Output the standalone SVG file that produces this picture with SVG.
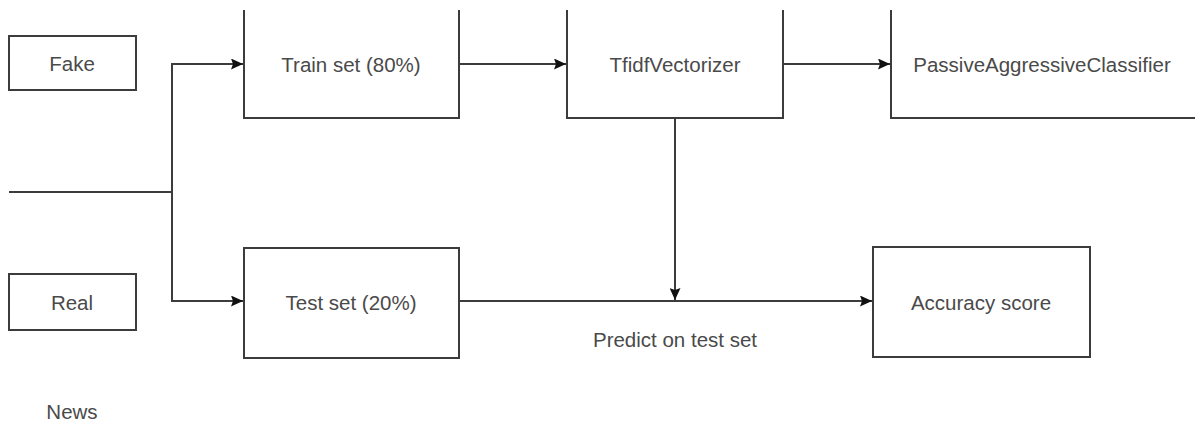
<svg xmlns="http://www.w3.org/2000/svg" width="1195" height="421" viewBox="0 0 1195 421">
<style>
.box{fill:#fff;stroke:#3c3c3c;stroke-width:2}
.ln{fill:none;stroke:#3c3c3c;stroke-width:2}
text{font-family:"Liberation Sans",Arial,sans-serif;font-size:20.5px;fill:#4a4a4a;text-anchor:middle;dominant-baseline:central}
</style>
<defs>
<marker id="ah" viewBox="0 0 12 11" refX="12" refY="5.5" markerWidth="12" markerHeight="11" markerUnits="userSpaceOnUse" orient="auto">
<path d="M0,0 L12,5.5 L0,11 L2,5.5 Z" fill="#111"/>
</marker>
</defs>
<rect width="1195" height="421" fill="#fff"/>
<g id="connectors">
<path class="ln" d="M9,192 H172"/>
<path class="ln" d="M172,301 V64 H243" marker-end="url(#ah)"/>
<path class="ln" d="M172,192 V301 H243" marker-end="url(#ah)"/>
<path class="ln" d="M459,64 H566" marker-end="url(#ah)"/>
<path class="ln" d="M783,64 H890" marker-end="url(#ah)"/>
<path class="ln" d="M675,118 V300" marker-end="url(#ah)"/>
<path class="ln" d="M459,301 H872" marker-end="url(#ah)"/>
</g>
<g id="fake"><rect class="box" x="9" y="36" width="127" height="54"/><text x="72" y="63">Fake</text></g>
<g id="real"><rect class="box" x="9" y="274" width="127" height="56"/><text x="72" y="302">Real</text></g>
<g id="news"><text x="72" y="411">News</text></g>
<g id="train"><path class="box" d="M244,10 V118 H459 V10"/><text x="351" y="64">Train set (80%)</text></g>
<g id="tfidf"><path class="box" d="M567,10 V118 H783 V10"/><text x="675" y="64">TfidfVectorizer</text></g>
<g id="pac"><path class="box" d="M891,10 V118 H1195"/><text x="1042" y="64">PassiveAggressiveClassifier</text></g>
<g id="test"><rect class="box" x="244" y="248" width="215" height="110"/><text x="351" y="302">Test set (20%)</text></g>
<g id="acc"><rect class="box" x="873" y="247" width="217" height="110"/><text x="981" y="302">Accuracy score</text></g>
<g id="predict"><text x="675" y="339">Predict on test set</text></g>
</svg>
